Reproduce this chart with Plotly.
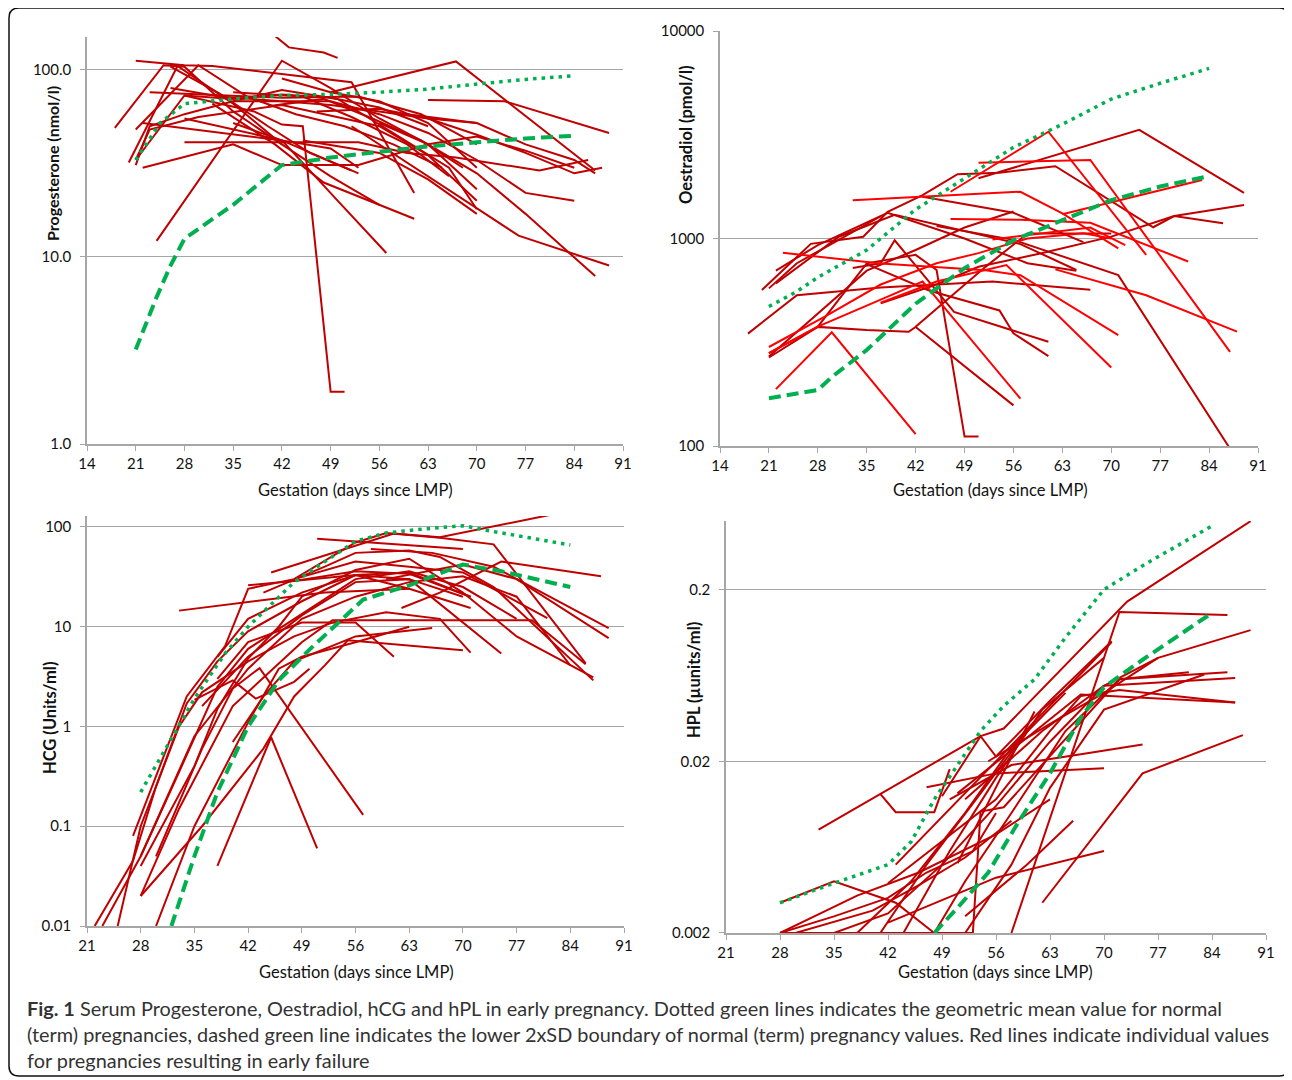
import plotly.graph_objects as go

W, H = 1292, 1080
OX, OY = 8, 8          # page body margin compensation
DARK = '#C00000'
BRIGHT = '#FF0000'
GREEN = '#00B050'
AXC = '#A6A6A6'
FONT = 'Lato'

DAYS_A = [14, 21, 28, 35, 42, 49, 56, 63, 70, 77, 84, 91]
DAYS_B = [21, 28, 35, 42, 49, 56, 63, 70, 77, 84, 91]

# ---------------- Progesterone (nmol/l) ----------------
PROG_MEAN = [(21, 33), (24.5, 52), (28, 66), (35, 70), (42, 73), (49, 74), (56, 76),
             (63, 79), (70, 84), (77, 89), (84, 93)]
PROG_LOW = [(21, 3.2), (24, 6.1), (26, 9.0), (28, 12.5), (31, 15), (35, 19), (42, 31),
            (49, 34), (56, 36.5), (63, 39), (70, 41), (77, 43), (84, 44.5)]
PROG_LINES = [
    [(18, 49), (25, 106), (28, 104), (35, 60), (42, 40)],
    [(21, 112), (28, 106), (32, 105), (52, 86), (61, 22)],
    [(41, 152), (43, 132), (48, 124), (50, 116)],
    [(24, 12.2), (37, 60), (42, 112), (49, 80), (56, 55), (63, 40), (70, 23)],
    [(49, 76), (67, 111), (87, 29)],
    [(63, 69), (74, 68), (89, 46)],
    [(20, 32), (27, 105), (35, 66), (42, 40), (49, 27), (56, 19)],
    [(21, 48), (30, 106), (37, 72), (44, 58), (51, 50), (58, 40), (65, 30)],
    [(21, 33), (28, 73), (35, 70), (42, 74), (49, 71), (56, 63), (63, 50)],
    [(23, 76), (42, 71), (53, 72), (62, 58), (70, 40)],
    [(22, 52), (42, 42), (53, 28)],
    [(28, 41), (53, 41), (60, 36), (67, 34), (79, 29), (86, 33)],
    [(21, 31), (23, 50), (28, 58), (35, 68), (42, 78), (50, 70), (58, 46), (66, 30), (70, 18)],
    [(28, 73), (38, 60), (42, 51), (45, 50), (49, 1.9), (51, 1.9)],
    [(21, 33), (23, 48), (30, 56), (42, 65), (56, 50), (63, 35), (70, 20)],
    [(22, 30), (35, 40), (42, 31), (53, 31), (63, 40), (70, 44), (77, 37), (84, 30)],
    [(45, 42), (56, 36), (63, 26), (70, 17)],
    [(35, 68), (49, 68), (56, 58), (63, 46), (70, 33), (77, 22), (84, 20)],
    [(35, 52), (42, 42), (50, 20), (57, 10.5)],
    [(32, 66), (41, 40), (48, 25), (61, 16)],
    [(52, 50), (76, 13), (89, 9)],
    [(56, 52), (63, 40), (70, 28), (77, 17), (87, 7.9)],
    [(26, 80), (33, 72), (42, 68), (49, 65), (56, 60), (63, 55), (70, 52)],
    [(47, 60), (56, 62), (63, 55), (70, 45), (77, 36), (84, 28), (88, 30)],
    [(35, 76), (45, 72), (52, 56), (60, 40), (66, 27)],
    [(42, 90), (49, 76), (56, 68), (63, 52), (70, 30)],
    [(26, 104), (33, 75), (40, 50), (46, 36), (52, 29)],
    [(28, 55), (35, 48), (42, 42), (49, 38), (53, 30)],
    [(60, 58), (70, 52), (77, 40), (84, 33), (87, 28)],
    [(40, 64), (48, 70), (55, 55), (62, 42), (68, 30)],
]

# ---------------- Oestradiol (pmol/l) ----------------
OEST_MEAN = [(21, 470), (25, 555), (28, 650), (35, 880), (42, 1380), (49, 1950),
             (56, 2750), (63, 3550), (70, 4700), (77, 5600), (84, 6600)]
OEST_LOW = [(21, 170), (28, 186), (30, 215), (35, 290), (42, 485), (49, 720),
            (56, 980), (63, 1220), (70, 1530), (77, 1780), (84, 2000)]
OEST_LINES_DARK = [
    [(20, 565), (27, 942), (34.5, 1020), (38, 1345), (43, 1620), (48, 2040), (54, 2075),
     (62, 2230), (76, 1133), (79, 1283), (86, 1183)],
    [(22, 608), (31, 1020), (39, 1300), (57, 940), (65, 705)],
    [(18, 348), (25, 533), (37, 580), (45, 600), (53, 620), (67, 567)],
    [(51, 1950), (74, 3340), (89, 1660)],
    [(45, 1150), (56, 985), (71, 666), (87, 97)],
    [(21, 280), (28, 376), (35, 759), (42, 834), (45, 705), (49, 111), (51, 111)],
    [(21, 267), (28, 375), (35, 362), (41, 355), (42, 375), (56, 157)],
    [(42, 376), (52, 730), (58, 1056), (70, 1056)],
    [(37, 487), (45, 600), (51, 731), (60, 849), (70, 1021), (79, 1283), (89, 1450)],
    [(43, 1590), (56, 1330), (66, 960)],
    [(33, 720), (37, 760), (39, 980), (47.5, 443), (61, 318)],
    [(35, 752), (44, 560), (54, 450), (56, 349), (61, 271)],
    [(22, 700), (28, 930), (38, 1330), (49, 1000), (58, 760), (65, 700)],
    [(21, 575), (25, 760), (31, 985), (37, 1280)],
    [(21, 270), (35, 700), (42, 880), (49, 1130), (56, 1350)],
]
OEST_LINES_BRIGHT = [
    [(47, 1680), (61, 3270), (75, 834)],
    [(51, 2320), (67, 2390), (87, 284)],
    [(33, 1530), (57, 1680), (63, 1320), (71, 896)],
    [(63, 1310), (83, 1915)],
    [(47, 1240), (57, 1230), (67, 1190), (81, 775)],
    [(23, 853), (37, 757), (52, 703), (57, 665), (71, 342)],
    [(22, 188), (30, 353), (42, 114)],
    [(21, 280), (28, 376), (38, 525), (43, 620), (46, 470), (57, 169)],
    [(37, 490), (45, 620), (55, 745), (70, 239)],
    [(62, 710), (75, 533), (88, 356)],
    [(53, 990), (67, 1130), (72, 930)],
    [(21, 300), (29, 420), (37, 600), (45, 760), (51, 850), (58, 1000), (66, 1060), (70, 1000)],
]

# ---------------- hCG (Units/ml) ----------------
HCG_MEAN = [(28, 0.22), (31, 0.55), (35, 1.9), (39, 5.4), (42, 10), (48, 28), (56, 72),
            (60, 87), (64, 94), (70, 103), (74, 90), (84, 66)]
HCG_LOW = [(32, 0.01), (35, 0.05), (38, 0.22), (42, 1.0), (46, 2.9), (50, 5.9), (57, 18.7),
           (63, 26), (70, 42), (75, 36), (84, 25)]
HCG_LINES = [
    [(27, 0.08), (34, 2.0), (39, 6.4), (42, 24), (48, 30), (56, 70), (60, 87), (67, 78), (74, 67), (86, 4.3)],
    [(22, 0.01), (27, 0.045), (30, 0.25), (34, 1.7), (38, 4.5), (42, 9), (49, 18), (56, 33), (63, 30), (70, 20)],
    [(45, 35), (61, 86), (67, 79), (83, 140)],
    [(33, 14.5), (52, 22), (63, 24)],
    [(23, 0.01), (28, 0.05), (33, 0.35), (38, 2.5), (42, 6), (48, 12), (56, 30), (63, 36), (70, 25), (77, 12)],
    [(25, 0.01), (28, 0.1), (33, 1.0), (36, 2.2), (42, 4.5), (48, 8), (53, 11), (60, 14), (67, 12), (71, 5.5)],
    [(30, 0.01), (35, 0.1), (42, 1.1), (46, 3.8), (49, 5), (56, 7), (63, 10)],
    [(28, 0.02), (33, 0.15), (40, 1.6), (49, 7), (53, 11.6), (79, 11.6), (86, 4.2)],
    [(38, 0.04), (45, 0.78), (51, 0.06)],
    [(28, 0.02), (36, 0.1), (44, 0.6), (48, 2), (52, 4.1), (55, 7.3), (70, 5.8)],
    [(30, 0.05), (36, 0.6), (40, 2.4), (43.5, 3.85), (57, 0.13)],
    [(35, 1.85), (40, 2.9), (43, 1.9), (48, 2.8), (50, 3.8)],
    [(38, 3), (42, 7), (49, 11), (56, 11), (61, 5)],
    [(62, 15.4), (67, 22), (75, 45), (88, 32)],
    [(36, 1.6), (42, 5), (49, 13), (56, 28), (63, 30), (75, 5.4)],
    [(51, 76), (60, 68), (70, 60)],
    [(38, 5), (42, 12), (49, 22), (56, 33), (63, 35), (71, 20)],
    [(28, 0.05), (35, 0.8), (42, 3.8), (49, 12), (56, 20), (63, 28), (70, 32), (77, 20), (84, 4.1)],
    [(40, 0.7), (44, 2.0), (48, 4.5), (56, 8), (66, 9.7)],
    [(28, 0.04), (35, 0.4), (38, 1.5), (42, 4.8), (46, 10), (49, 20), (56, 37), (63, 48), (70, 22), (77, 8), (87, 3.1)],
    [(44, 22), (52, 40), (56, 55), (63, 58), (67, 50), (74, 25), (87, 2.9)],
    [(48, 30), (56, 45), (63, 40), (70, 35), (81, 12.2)],
    [(42, 26), (56, 33), (63, 24), (71, 15.4)],
    [(58, 60), (66, 55), (74, 40), (89, 9.7)],
    [(60, 30), (70, 42), (77, 30), (89, 7.7)],
    [(47, 28), (56, 36), (63, 34), (71, 20)],
]

# ---------------- hPL (µunits/ml) ----------------
HPL_MEAN = [(28, 0.003), (35, 0.0039), (42, 0.005), (45, 0.0068), (48, 0.012), (51, 0.019),
            (54, 0.03), (57, 0.042), (61, 0.06), (65, 0.105), (70, 0.2), (75, 0.275), (84, 0.47)]
HPL_LOW = [(48, 0.002), (51, 0.0028), (55, 0.0045), (59, 0.009), (63, 0.017), (67, 0.036),
           (70, 0.054), (75, 0.078), (84, 0.146)]
HPL_LINES = [
    [(28, 0.003), (35, 0.004), (43, 0.003), (48, 0.002)],
    [(41, 0.0129), (43, 0.0101), (48, 0.0101), (50, 0.018)],
    [(33, 0.008), (41, 0.0129), (54, 0.028), (57, 0.031), (73, 0.17), (89, 0.5)],
    [(49, 0.0125), (54, 0.028), (56, 0.0213), (63, 0.045), (71, 0.10)],
    [(58, 0.002), (72, 0.148), (86, 0.142)],
    [(55, 0.02), (63, 0.033), (70, 0.05), (77, 0.08), (89, 0.116)],
    [(51, 0.013), (67, 0.049), (87, 0.044)],
    [(52, 0.012), (62, 0.03), (70, 0.055), (87, 0.061)],
    [(47, 0.0141), (56, 0.017), (70, 0.0182)],
    [(50, 0.012), (58, 0.019), (67, 0.022), (75, 0.025)],
    [(62, 0.003), (75, 0.017), (88, 0.0284)],
    [(42, 0.0023), (56, 0.0042), (70, 0.006)],
    [(52, 0.0025), (60, 0.005), (66, 0.009)],
    [(43, 0.005), (71, 0.099)],
    [(42, 0.0039), (56, 0.012), (63, 0.03), (67, 0.048), (72, 0.052), (87, 0.044)],
    [(28, 0.002), (53, 0.002)],
    [(28, 0.002), (35, 0.0025), (42, 0.0032), (47, 0.0045), (53, 0.006), (56, 0.01)],
    [(28, 0.002), (38, 0.0033), (46, 0.0045), (56, 0.0075), (63, 0.012)],
    [(30, 0.002), (40, 0.0027), (46, 0.0038), (52, 0.0055), (58, 0.009)],
    [(35, 0.002), (42, 0.0026), (49, 0.005), (56, 0.011), (63, 0.026), (70, 0.055), (77, 0.08)],
    [(38, 0.002), (45, 0.004), (52, 0.01), (58, 0.024), (65, 0.05)],
    [(41, 0.002), (47, 0.005), (54, 0.013), (60, 0.03)],
    [(44, 0.002), (50, 0.006), (56, 0.016), (62, 0.04), (70, 0.08)],
    [(48, 0.002), (52, 0.004), (58, 0.01), (65, 0.03), (72, 0.06), (81, 0.066)],
    [(52, 0.002), (58, 0.005), (63, 0.014), (70, 0.04), (83, 0.064)],
    [(53, 0.002), (54, 0.0102), (57, 0.0108), (66, 0.03), (72, 0.06), (86, 0.066)],
    [(51, 0.0051), (61, 0.039)],
]

CAPTION = [
    "<b>Fig. 1</b> Serum Progesterone, Oestradiol, hCG and hPL in early pregnancy. Dotted green lines indicates the geometric mean value for normal",
    "(term) pregnancies, dashed green line indicates the lower 2xSD boundary of normal (term) pregnancy values. Red lines indicate individual values",
    "for pregnancies resulting in early failure",
]

fig = go.Figure()


def add_line(pts, ax, color, width=2.0, dash=None):
    xs = [p[0] for p in pts]
    ys = [p[1] for p in pts]
    line = dict(color=color, width=width)
    if dash:
        line['dash'] = dash
    fig.add_trace(go.Scatter(x=xs, y=ys, mode='lines', line=line, hoverinfo='skip',
                             xaxis='x' + ax, yaxis='y' + ax, showlegend=False, cliponaxis=True))


panels = [
    ('', PROG_LINES, [], PROG_MEAN, PROG_LOW),
    ('2', OEST_LINES_DARK, OEST_LINES_BRIGHT, OEST_MEAN, OEST_LOW),
    ('3', HCG_LINES, [], HCG_MEAN, HCG_LOW),
    ('4', HPL_LINES, [], HPL_MEAN, HPL_LOW),
]
for ax, dark, bright, mean, low in panels:
    for pts in dark:
        add_line(pts, ax, DARK)
    for pts in bright:
        add_line(pts, ax, BRIGHT)
    add_line(mean, ax, GREEN, width=3.5, dash='3.5px,5px')
    add_line(low, ax, GREEN, width=4, dash='12px,6px')


def fx(px):
    return (px - OX) / W


def fy(py):
    return (H - (py - OY)) / H


def px_x(a, b):
    return [fx(a), fx(b)]


def px_y(top, bottom):
    return [fy(bottom), fy(top)]


tickfont = dict(family=FONT, size=15, color='#111111')


def xaxis(dom, rng, vals, anchor):
    return dict(domain=dom, range=rng, tickvals=vals, ticktext=[str(v) for v in vals],
                ticks='outside', ticklen=5, tickcolor=AXC, tickwidth=1.2,
                showline=True, linecolor=AXC, linewidth=1.5, showgrid=False, zeroline=False,
                tickfont=tickfont, anchor=anchor, fixedrange=True, automargin=False)


def yaxis(dom, rng, vals, texts, anchor):
    return dict(domain=dom, type='log', range=rng, tickvals=vals, ticktext=texts,
                ticks='outside', ticklen=5, tickcolor=AXC, tickwidth=1.2,
                showline=True, linecolor=AXC, linewidth=1.5, showgrid=True, gridcolor=AXC,
                gridwidth=1.2, zeroline=False, tickfont=tickfont, anchor=anchor,
                ticklabelstandoff=6, fixedrange=True, automargin=False)


fig.update_layout(
    width=W, height=H, autosize=False,
    margin=dict(l=0, r=0, t=0, b=0, pad=0, autoexpand=False),
    paper_bgcolor='white', plot_bgcolor='rgba(0,0,0,0)',
    showlegend=False,
    xaxis=xaxis(px_x(87, 623), [14, 91], DAYS_A, 'y'),
    yaxis=yaxis(px_y(37, 444), [0, 2.176], [1, 10, 100], ['1.0', '10.0', '100.0'], 'x'),
    xaxis2=xaxis(px_x(720, 1258), [14, 91], DAYS_A, 'y2'),
    yaxis2=yaxis(px_y(31, 446), [2, 4], [100, 1000, 10000], ['100', '1000', '10000'], 'x2'),
    xaxis3=xaxis(px_x(87, 624), [21, 91], DAYS_B, 'y3'),
    yaxis3=yaxis(px_y(516, 926), [-2, 2.11], [0.01, 0.1, 1, 10, 100],
                 ['0.01', '0.1', '1', '10', '100'], 'x3'),
    xaxis4=xaxis(px_x(726, 1266), [21, 91], DAYS_B, 'y4'),
    yaxis4=yaxis(px_y(521, 933), [-2.699, -0.30], [0.002, 0.02, 0.2],
                 ['0.002', '0.02', '0.2'], 'x4'),
)

annotations = []


def ann(text, x, y, size=15, bold=False, angle=0, xanchor='center', color='#111111', family=FONT):
    if bold:
        text = '<b>' + text + '</b>'
    annotations.append(dict(text=text, x=fx(x), y=fy(y), xref='paper', yref='paper',
                            showarrow=False, textangle=angle, xanchor=xanchor, yanchor='middle',
                            font=dict(family=family, size=size, color=color)))


ann('Gestation (days since LMP)', 355, 490, size=16.5)
ann('Gestation (days since LMP)', 990, 490, size=16.5)
ann('Gestation (days since LMP)', 356, 972, size=16.5)
ann('Gestation (days since LMP)', 996, 972, size=16.5)
ann('Progesterone (nmol/l)', 52, 164, size=16, bold=True, angle=-90)
ann('Oestradiol (pmol/l)', 686, 134, size=16.5, bold=True, angle=-90)
ann('HCG (Units/ml)', 50, 718, size=16.5, bold=True, angle=-90)
ann('HPL (µunits/ml)', 694, 680, size=16.5, bold=True, angle=-90)

for i, line in enumerate(CAPTION):
    ann(line, 25, 1008 + 26 * i, size=19.9, xanchor='left', color='#333333')

fig.update_layout(annotations=annotations)

# rounded frame around the figure
x0, y0, x1, y1, r = fx(9), fy(8), fx(1289), fy(1076), 10
rx, ry = r / W, r / H
path = (f"M {x0 + rx},{y0} L {x1 - rx},{y0} Q {x1},{y0} {x1},{y0 - ry} "
        f"L {x1},{y1 + ry} Q {x1},{y1} {x1 - rx},{y1} L {x0 + rx},{y1} "
        f"Q {x0},{y1} {x0},{y1 + ry} L {x0},{y0 - ry} Q {x0},{y0} {x0 + rx},{y0} Z")
fig.add_shape(type='path', path=path, xref='paper', yref='paper',
              line=dict(color='#111111', width=1.5), fillcolor='rgba(0,0,0,0)')

fig.write_html('out.html')
